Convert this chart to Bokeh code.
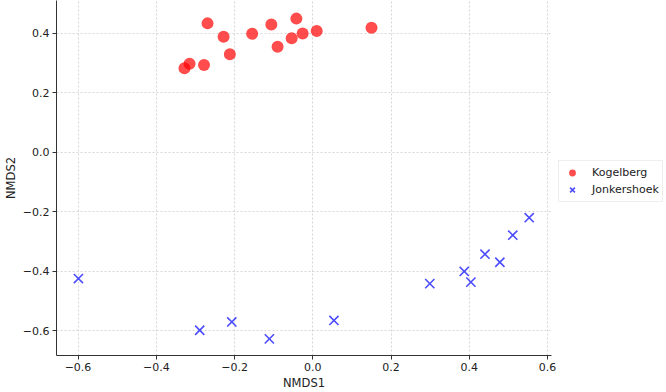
from bokeh.plotting import figure
from bokeh.models import Range1d, FixedTicker, Legend, LegendItem
from bokeh.layouts import row
from bokeh.embed import file_html
from bokeh.resources import INLINE

kog_x = [-0.328, -0.315, -0.278, -0.269, -0.228, -0.212, -0.155, -0.106, -0.090, -0.054, -0.042, -0.026, 0.010, 0.150]
kog_y = [0.283, 0.298, 0.294, 0.434, 0.389, 0.330, 0.399, 0.430, 0.355, 0.384, 0.450, 0.400, 0.408, 0.419]
jon_x = [-0.599, -0.289, -0.207, -0.111, 0.054, 0.299, 0.387, 0.404, 0.440, 0.478, 0.511, 0.553]
jon_y = [-0.425, -0.599, -0.571, -0.628, -0.566, -0.442, -0.401, -0.437, -0.343, -0.370, -0.279, -0.220]

series_labels = ["Kogelberg", "Jonkershoek"]

x_ticks = [-0.6, -0.4, -0.2, 0.0, 0.2, 0.4, 0.6]
x_labels = ["\u22120.6", "\u22120.4", "\u22120.2", "0.0", "0.2", "0.4", "0.6"]
y_ticks = [-0.6, -0.4, -0.2, 0.0, 0.2, 0.4]
y_labels = ["\u22120.6", "\u22120.4", "\u22120.2", "0.0", "0.2", "0.4"]

FONT = "DejaVu Sans"

KOG_STYLE = dict(marker="circle", size=12, fill_color="red", fill_alpha=0.7, line_color="red", line_alpha=0.0)
JON_STYLE = dict(marker="x", size=13, line_color="blue", line_alpha=0.7, line_width=1.6)

p = figure(width=558, height=392, output_backend="svg", toolbar_location=None,
           x_range=Range1d(-0.655, 0.610), y_range=Range1d(-0.684, 0.511),
           min_border_left=55, min_border_bottom=33, min_border_top=0, min_border_right=7)
p.outline_line_color = None

p.scatter(kog_x, kog_y, **KOG_STYLE)
p.scatter(jon_x, jon_y, **JON_STYLE)

for ax, ticks, labels in ((p.xaxis[0], x_ticks, x_labels), (p.yaxis[0], y_ticks, y_labels)):
    ax.ticker = FixedTicker(ticks=ticks)
    ax.major_label_overrides = {t: l for t, l in zip(ticks, labels)}
    ax.minor_tick_line_color = None
    ax.major_tick_out = 4
    ax.major_tick_in = 0
    ax.major_label_standoff = 3
    ax.axis_line_color = "#333333"
    ax.major_tick_line_color = "#333333"
    ax.major_label_text_font = FONT
    ax.major_label_text_font_size = "11px"
    ax.major_label_text_color = "#222222"
    ax.axis_label_text_font = FONT
    ax.axis_label_text_font_size = "11.5px"
    ax.axis_label_text_font_style = "normal"
    ax.axis_label_text_color = "#222222"
    ax.axis_label_standoff = 2

p.xaxis.axis_label = "NMDS1"
p.yaxis.axis_label = "NMDS2"

p.grid.grid_line_color = "#cccccc"
p.grid.grid_line_dash = "2 2"
p.grid.grid_line_width = 0.8

# legend panel (same series, drawn out of view so only the legend shows)
lp = figure(width=108, height=392, output_backend="svg", toolbar_location=None,
            x_axis_location=None, y_axis_location=None,
            x_range=Range1d(10, 11), y_range=Range1d(10, 11),
            min_border_left=0, min_border_right=0, min_border_top=0, min_border_bottom=0)
lp.outline_line_color = None
lp.grid.visible = False
lr1 = lp.scatter(kog_x, kog_y, **KOG_STYLE)
lr2 = lp.scatter(jon_x, jon_y, **JON_STYLE)

legend = Legend(items=[LegendItem(label=series_labels[0], renderers=[lr1]),
                       LegendItem(label=series_labels[1], renderers=[lr2])],
                location=(0, 153), margin=0, padding=3, spacing=0,
                label_text_font=FONT, label_text_font_size="11px", label_text_color="#222222",
                border_line_color="#dddddd", glyph_width=20, glyph_height=17,
                label_standoff=10)
lp.add_layout(legend)

open("out.html", "w").write(file_html(row(p, lp), INLINE))
